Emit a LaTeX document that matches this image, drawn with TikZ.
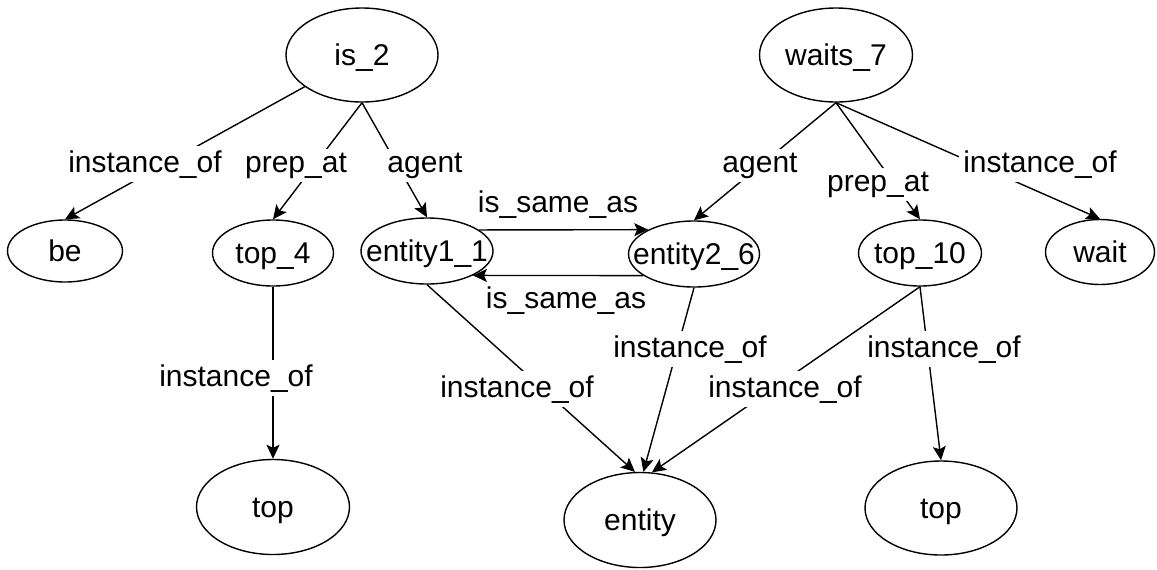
\documentclass[tikz,border=0pt]{standalone}
\usepackage{fontspec}
\setmainfont{Liberation Sans}
\usetikzlibrary{shapes.geometric,arrows.meta}
\newcommand{\nt}[1]{\smash{\makebox[0pt]{\raisebox{-0.36em}{#1}}}}
\begin{document}
\begin{tikzpicture}[x=0.5pt,y=-0.5pt,
  ell/.style={draw, ellipse, line width=0.7pt, inner sep=0pt, font=\fontsize{15}{18}\selectfont},
  lab/.style={fill=white, inner sep=2pt, anchor=base, font=\fontsize{15}{18}\selectfont},
  conn/.style={line width=0.7pt, -{Stealth[length=7pt,width=6.5pt,inset=1.5pt]}},
]
\useasboundingbox (0,0) rectangle (1157,569);
% nodes
\node[ell, minimum width=76pt,   minimum height=47pt]   (is2)    at (362,55)  {\nt{is\_2}};
\node[ell, minimum width=76.5pt, minimum height=47pt]   (waits7) at (836,55)  {\nt{waits\_7}};
\node[ell, minimum width=57.5pt, minimum height=31pt]   (be)     at (65,251)  {\nt{be}};
\node[ell, minimum width=60.5pt, minimum height=33pt]   (top4)   at (273,253) {\nt{top\_4}};
\node[ell, minimum width=66pt,   minimum height=33pt]   (e1)     at (427,251) {\nt{entity1\_1}};
\node[ell, minimum width=65.5pt, minimum height=33pt]   (e2)     at (694,254) {\nt{entity2\_6}};
\node[ell, minimum width=61.5pt, minimum height=33pt]   (top10)  at (920,253) {\nt{top\_10}};
\node[ell, minimum width=54.5pt, minimum height=32.5pt] (wait)   at (1100,252) {\nt{wait}};
\node[ell, minimum width=76.5pt, minimum height=47.5pt] (topL)   at (273,507) {\nt{top}};
\node[ell, minimum width=76pt,   minimum height=47.5pt] (entity) at (640,520) {\nt{entity}};
\node[ell, minimum width=76pt,   minimum height=47pt]   (topR)   at (941,508) {\nt{top}};
% connectors
\draw[conn] (is2) -- (be.north);
\draw[conn] (is2.south) -- (top4.north);
\draw[conn] (is2.south) -- (e1.north);
\draw[conn] (waits7.south) -- (e2.north);
\draw[conn] (waits7.south) -- (top10.north);
\draw[conn] (waits7.south) -- (wait.north);
\draw[conn] (e1.22) -- (e2.152);
\draw[conn] (e2.203) -- (e1.332);
\draw[conn] (top4.south) -- (topL.north);
\draw[conn] (e1.south) -- (entity.96);
\draw[conn] (e2.south) -- (entity.86);
\draw[conn] (top10.south) -- (entity.76);
\draw[conn] (top10.south) -- (topR.north);
% labels
\node[lab] (l1)  at (145,172) {instance\_of};
\node[lab] (l2)  at (296,172) {prep\_at};
\node[lab] (l3)  at (425,172) {agent};
\node[lab] (l4)  at (760,172) {agent};
\node[lab] (l5)  at (878,191) {prep\_at};
\node[lab] (l6)  at (1040,172) {instance\_of};
\node[lab] (l7)  at (558,212) {is\_same\_as};
\node[lab] (l8)  at (566,308) {is\_same\_as};
\node[lab] (l9)  at (236,386) {instance\_of};
\node[lab] (l10) at (517,397) {instance\_of};
\node[lab] (l11) at (690,357) {instance\_of};
\node[lab] (l12) at (785,397) {instance\_of};
\node[lab] (l13) at (944,357) {instance\_of};
\end{tikzpicture}
\end{document}
